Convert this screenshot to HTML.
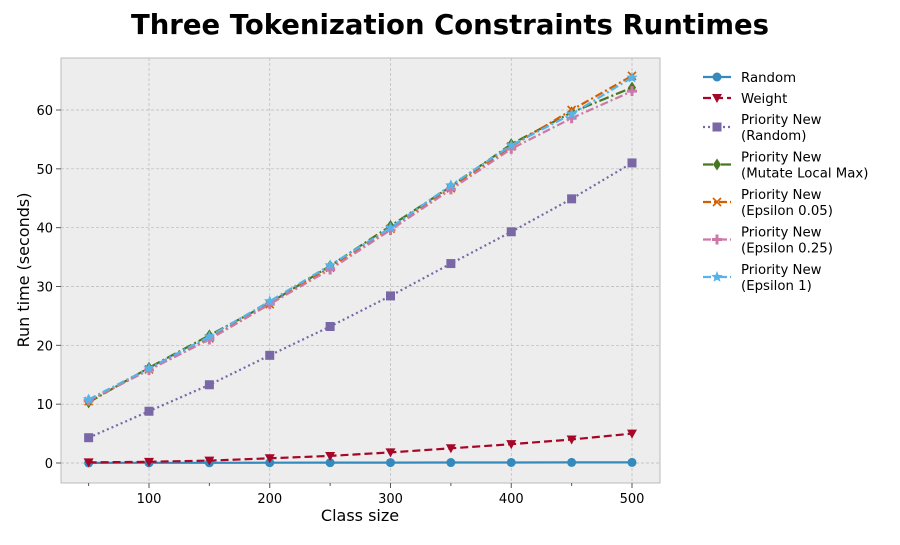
<!DOCTYPE html>
<html><head><meta charset="utf-8"><style>
body{margin:0;background:#fff;}
svg text{font-family:"DejaVu Sans","Liberation Sans",sans-serif;}
</style></head><body>
<svg id="chart" width="900" height="540" xmlns="http://www.w3.org/2000/svg">
<text x="450" y="34" text-anchor="middle" font-size="27.5" font-weight="bold">Three Tokenization Constraints Runtimes</text>
<rect x="61" y="58" width="599" height="425" fill="#ededed" stroke="#bbb" stroke-width="1"/>
<g id="grid"></g><g id="series"></g><g id="axes"></g><g id="legend"></g>
<text x="360" y="521" text-anchor="middle" font-size="16">Class size</text>
<text transform="translate(29,270) rotate(-90)" text-anchor="middle" font-size="16">Run time (seconds)</text>
</svg>
<script>
const categories=[50,100,150,200,250,300,350,400,450,500];
const xTicks=[100,200,300,400,500];
const yTicks=[0,10,20,30,40,50,60];
const seriesNames=["Random","Weight","Priority New\n(Random)","Priority New\n(Mutate Local Max)","Priority New\n(Epsilon 0.05)","Priority New\n(Epsilon 0.25)","Priority New\n(Epsilon 1)"];
const valsRandom=[0.02,0.03,0.04,0.05,0.06,0.07,0.08,0.09,0.1,0.1];
const valsWeight=[0.1,0.2,0.4,0.8,1.2,1.8,2.5,3.2,4.0,5.0];
const valsPRandom=[4.3,8.8,13.3,18.3,23.2,28.4,33.9,39.3,44.9,51.0];
const valsMutate=[10.3,16.2,21.7,27.2,33.5,40.3,47.0,54.2,59.6,63.8];
const valsEps005=[10.5,15.9,21.2,27.0,33.2,39.8,46.7,53.8,60.0,65.8];
const valsEps025=[10.6,15.8,21.0,27.0,32.9,39.6,46.5,53.4,58.6,63.2];
const valsEps1=[10.8,16.1,21.5,27.5,33.6,40.0,47.2,54.0,59.3,65.5];
const allVals=[valsRandom,valsWeight,valsPRandom,valsMutate,valsEps005,valsEps025,valsEps1];
const colors=["#348abd","#a60628","#7a68a6","#467821","#d55e00","#cc79a7","#56b4e9"];
const dashes=["","8,4","2,3","10,3,2,3","8,3,2,3","8,3,2,3","8,3,2,3"];
const markers=["circle","tri","square","diamond","x","plus","star"];
const NS="http://www.w3.org/2000/svg";
const X=v=>149+(v-100)*(632-149)/400;
const Y=v=>463-v*(463-110)/60;
function mk(t,a,p){const e=document.createElementNS(NS,t);for(const k in a)e.setAttribute(k,a[k]);p.appendChild(e);return e;}
const grid=document.getElementById('grid'),axes=document.getElementById('axes'),ser=document.getElementById('series'),leg=document.getElementById('legend');
xTicks.forEach(t=>{const l=mk('line',{x1:X(t),x2:X(t),y1:58,y2:483,stroke:'#b8b8b8','stroke-dasharray':'3,2','stroke-width':0.7},grid);

mk('line',{x1:X(t),x2:X(t),y1:483,y2:488,stroke:'#555'},axes);
const tx=mk('text',{x:X(t),y:503,'text-anchor':'middle','font-size':13},axes);tx.textContent=t;
});
for(let m=50;m<=525;m+=50){if(m%100)mk('line',{x1:X(m),x2:X(m),y1:483,y2:486,stroke:'#555'},axes);}
yTicks.forEach(t=>{const l=mk('line',{x1:61,x2:660,y1:Y(t),y2:Y(t),stroke:'#b8b8b8','stroke-dasharray':'3,2','stroke-width':0.7},grid);

mk('line',{x1:56,x2:61,y1:Y(t),y2:Y(t),stroke:'#555'},axes);
const tx=mk('text',{x:53,y:Y(t)+5,'text-anchor':'end','font-size':13},axes);tx.textContent=t;
});
function marker(g,type,x,y,c){
 if(type=='circle')mk('circle',{cx:x,cy:y,r:4.5,fill:c},g);
 else if(type=='tri')mk('polygon',{points:`${x-5},${y-4} ${x+5},${y-4} ${x},${y+5}`,fill:c},g);
 else if(type=='square')mk('rect',{x:x-4.5,y:y-4.5,width:9,height:9,fill:c},g);
 else if(type=='diamond')mk('polygon',{points:`${x},${y-6} ${x+4},${y} ${x},${y+6} ${x-4},${y}`,fill:c},g);
 else if(type=='x'){mk('path',{d:`M${x-4},${y-4}L${x+4},${y+4}M${x-4},${y+4}L${x+4},${y-4}`,stroke:c,'stroke-width':1.6},g);}
 else if(type=='plus'){mk('path',{d:`M${x-5},${y}L${x+5},${y}M${x},${y-5}L${x},${y+5}`,stroke:c,'stroke-width':3},g);}
 else {let p=[];for(let i=0;i<10;i++){const r=i%2?2.6:6,a=-Math.PI/2+i*Math.PI/5;p.push((x+r*Math.cos(a)).toFixed(1)+','+(y+r*Math.sin(a)).toFixed(1));}mk('polygon',{points:p.join(' '),fill:c},g);}
}
allVals.forEach((vals,si)=>{
 const g=mk('g',{},ser);
 const pts=vals.map((v,i)=>X(categories[i]).toFixed(1)+','+Y(v).toFixed(1)).join(' ');
 const pl=mk('polyline',{points:pts,fill:'none',stroke:colors[si],'stroke-width':2.2,'stroke-dasharray':dashes[si]},g);
 
 vals.forEach((v,i)=>marker(g,markers[si],X(categories[i]),Y(v),colors[si]));
});
let ly=77;
seriesNames.forEach((n,si)=>{
 const lines=n.split('\n');
 const g=mk('g',{},leg);
 const cy=lines.length>1?ly+8:ly;
 mk('line',{x1:703,x2:731,y1:cy,y2:cy,stroke:colors[si],'stroke-width':2.2,'stroke-dasharray':dashes[si]},g);
 marker(g,markers[si],717,cy,colors[si]);
 lines.forEach((t,j)=>{const tx=mk('text',{x:741,y:ly+5+j*16,'font-size':13.3},g);tx.textContent=t;});
 ly+=lines.length>1?37.5:21;
});
</script>
</body></html>
